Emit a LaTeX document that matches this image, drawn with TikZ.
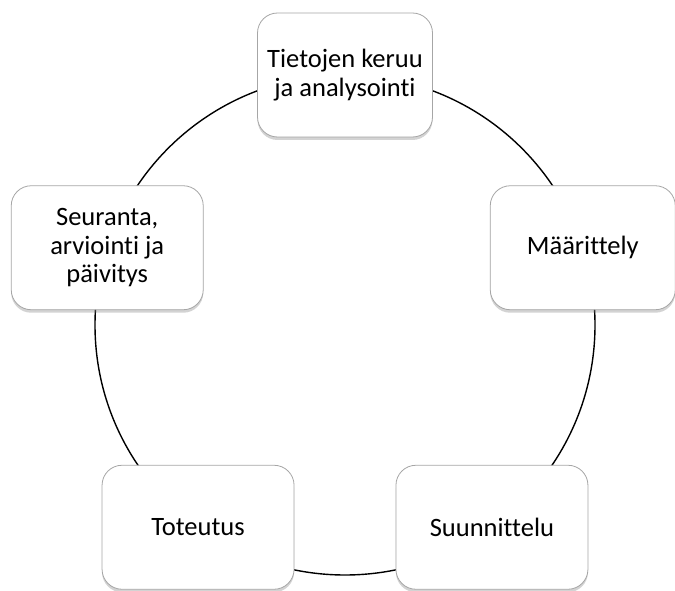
\documentclass[tikz,border=0pt]{standalone}
\usepackage{fontspec}
\setmainfont[Ligatures={NoCommon}]{Carlito}
\usepackage{tikz}
\usetikzlibrary{shapes,shadows,positioning,calc}

\tikzset{stage/.style={
    draw=gray!70,
    line width=0.8pt,
    fill=white,
    rectangle,
    rounded corners=20pt,
    minimum width=192pt,
    minimum height=124pt,
    inner sep=0pt,
    align=center,
    font=\fontsize{26.5}{28.5}\selectfont,
    drop shadow={shadow xshift=0pt,shadow yshift=-3pt,opacity=0.35},
  }}

\begin{document}
\begin{tikzpicture}[x=1pt,y=1pt,
        cycleline/.style={draw=black,line width=1.4pt}]

        \useasboundingbox (0,0) rectangle (675,-591);

        % Cycle
        \coordinate (hub) at (345,-325);
        \draw [cycleline] (hub) circle (250);

        % Stages
        \node (keruu) [stage, minimum width=175pt] at ($(hub)+(90:250)$)
          {Tietojen keruu\\ja analysointi};
        \node (maarittely) [stage, minimum width=185pt] at ($(hub)+(18:250)$)
          {Määrittely};
        \node (suunnittelu) [stage] at ($(hub)+(-54:250)$)
          {Suunnittelu};
        \node (toteutus) [stage] at ($(hub)+(-126:250)$)
          {Toteutus};
        \node (seuranta) [stage] at ($(hub)+(162:250)$)
          {Seuranta,\\arviointi ja\\päivitys};

      \end{tikzpicture}
\end{document}
